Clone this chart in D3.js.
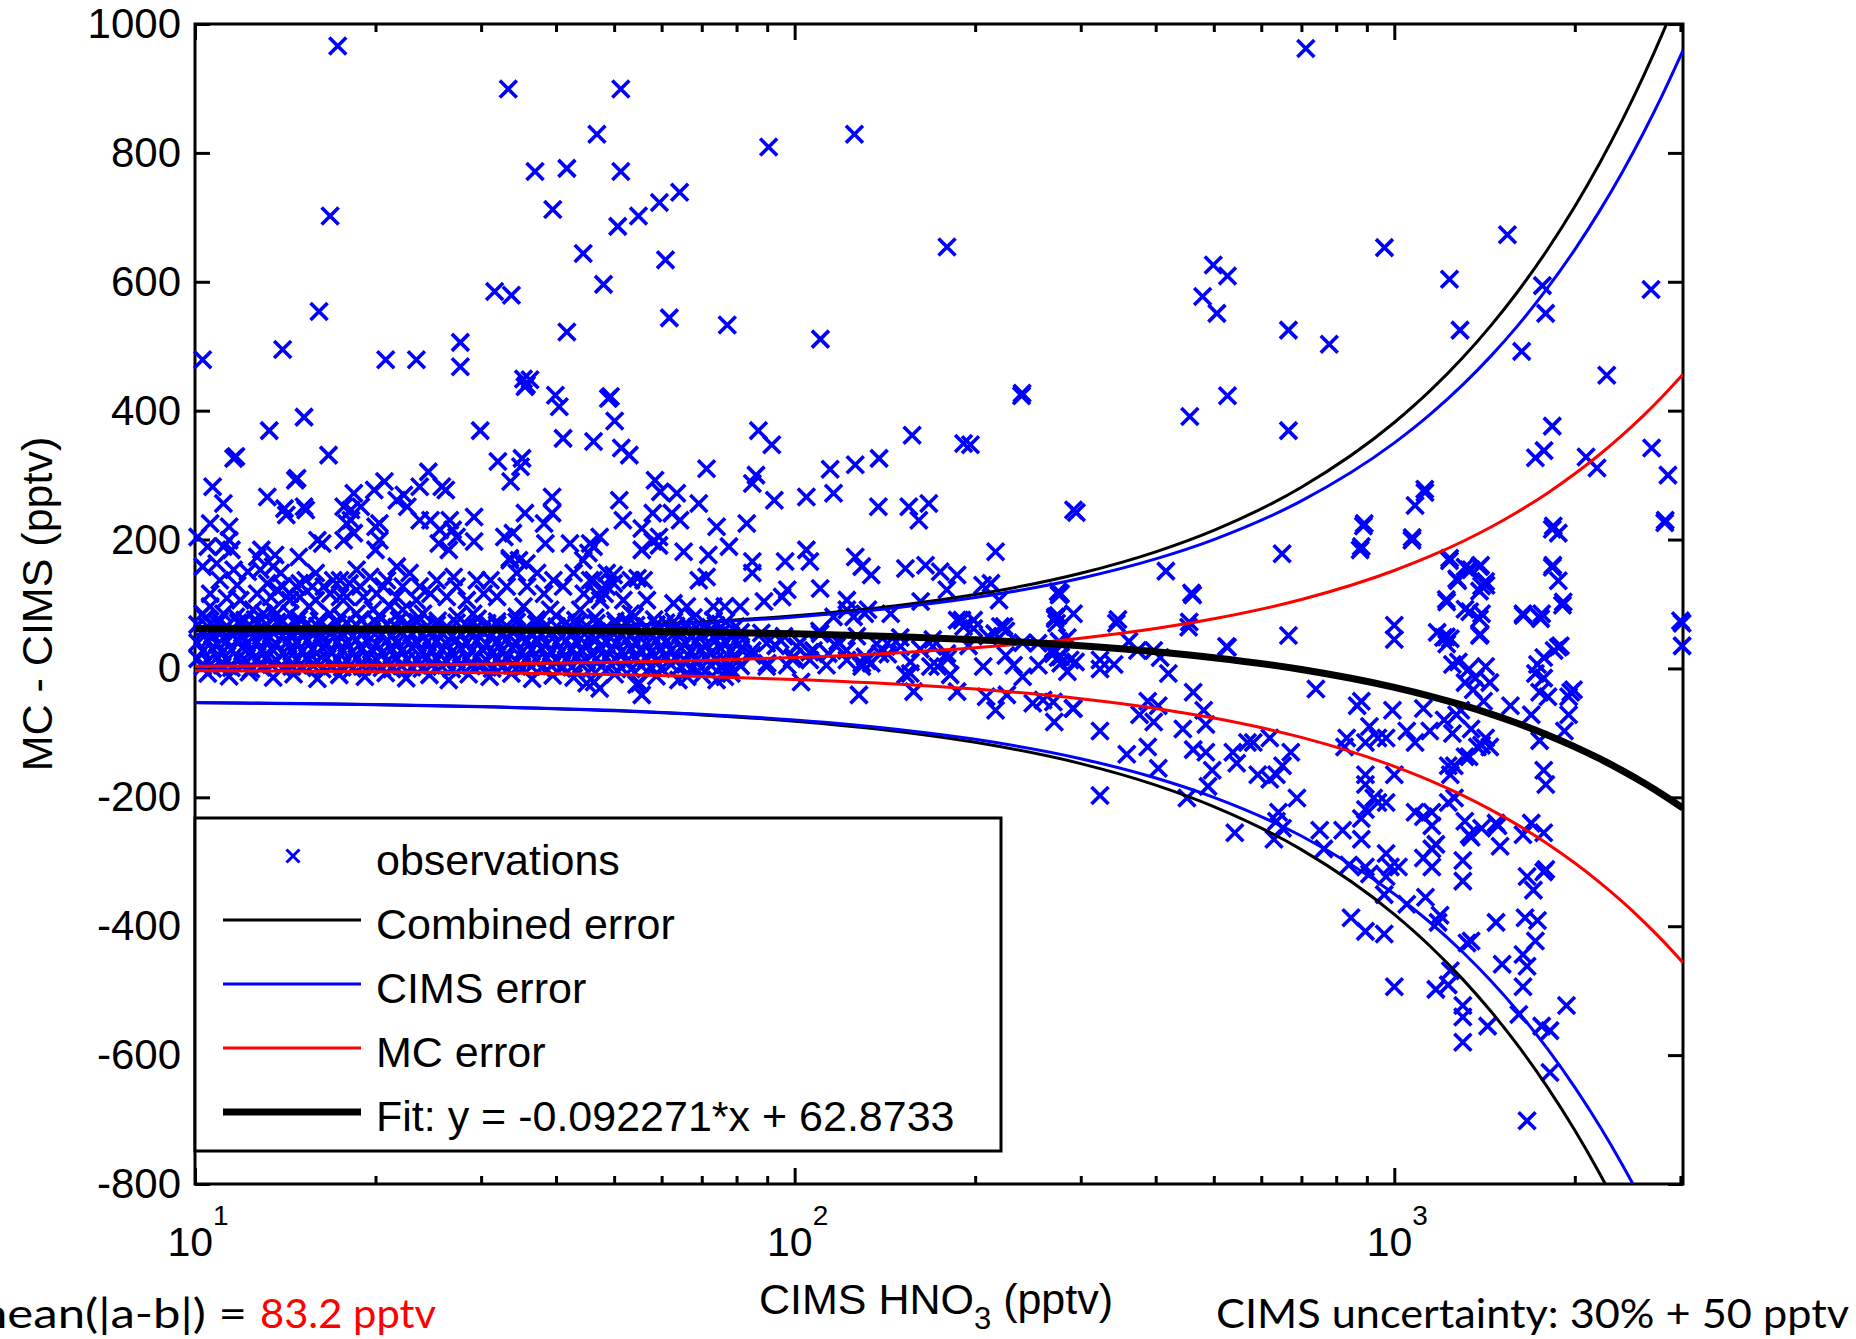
<!DOCTYPE html>
<html>
<head>
<meta charset="utf-8">
<script src="https://cdn.jsdelivr.net/npm/d3@7"></script>
<style>
  body { margin: 0; background: #fff; }
  text { white-space: pre; }
</style>
</head>
<body>
<svg id="chart" width="1856" height="1339"></svg>
<script>
// ---- axis ticks ----
const yTicks = [-800, -600, -400, -200, 0, 200, 400, 600, 800, 1000];
const xMajor = [10, 100, 1000];
const xExponents = ["1", "2", "3"];
const xMinor = [20, 30, 40, 50, 60, 70, 80, 90, 200, 300, 400, 500, 600, 700, 800, 900, 2000, 3000];

// ---- error envelopes and fit ----
const curveX   = [10, 15, 20, 30, 50, 70, 100, 150, 200, 300, 400, 500, 700, 1000, 1150, 1300, 1450, 1600, 1800, 2000, 2200, 2400, 2600, 2800, 3030];
const cimsErr  = [53, 54.5, 56, 59, 65, 71, 80, 95, 110, 140, 170, 200, 260, 350, 395, 440, 485, 530, 590, 650, 710, 770, 830, 890, 959];
const mcErr    = [3.5, 4.3, 5, 6.5, 9.5, 12.5, 17, 24.5, 32, 47, 62, 77, 107, 152, 174.5, 197, 219.5, 242, 272, 302, 332, 362, 392, 422, 456.5];
const combErr  = [53.1, 54.7, 56.2, 59.4, 65.7, 72.1, 81.8, 98.1, 114.6, 147.7, 181, 214.3, 281.2, 381.6, 431.8, 482.1, 532.4, 582.6, 649.7, 716.7, 783.8, 850.8, 917.9, 985, 1062.1];
const fitY     = [61.95, 61.49, 61.03, 60.11, 58.26, 56.41, 53.65, 49.03, 44.42, 35.19, 25.97, 16.74, -1.72, -29.4, -43.24, -57.08, -70.92, -84.76, -103.21, -121.67, -140.12, -158.58, -177.03, -195.49, -216.71];

// ---- dense core of observations (x positions shared by rows) ----
const bandXa = [10.1,10.5,10.9,11.3,11.8,12.2,12.7,13.2,13.7,14.3,14.8,15.4,16.0,16.6,17.3,17.9,18.6,19.4,20.1,20.9,21.7,22.6,23.5,24.4,25.3,26.3,27.3,28.4,29.5,30.7,31.9,33.1,34.4,35.7,37.1,38.6,40.1,41.6,43.3,45.0,46.7,48.5,50.4,52.4,54.4,56.6,58.8,61.0,63.4,65.9,68.5,71.1,73.9,76.8,79.8];
const bandXb = [10.3,10.7,11.1,11.5,12.0,12.4,12.9,13.4,14.0,14.5,15.1,15.7,16.3,16.9,17.6,18.3,19.0,19.7,20.5,21.3,22.1,23.0,23.9,24.8,25.8,26.8,27.8,28.9,30.1,31.3,32.5,33.8,35.1,36.4,37.8,39.3,40.9,42.5,44.1,45.8,47.6,49.5,51.4,53.4,55.5,57.6,59.9,62.2,64.6,67.2,69.8,72.5,75.3,78.2,81.3];
const bandRowA = [68,65,70,66,71,64,69,67,72,65,68,70,66,63,69,71,67,65,70,68,64,69,72,66,68,65,71,67,63,70,68,66,72,64,69,67,65,71,68,66,70,64,69,72,67,65,68,71,66,70,64,69,67,72,65];
const bandRowB = [55,52,57,53,50,56,54,58,51,55,53,57,52,56,54,50,55,58,53,51,56,54,52,57,55,50,53,56,58,52,54,57,51,55,53,56,50,54,58,52,55,57,53,51,56,54,52,58,55,50,53,57,54,52,56];
const bandRowC = [40,43,38,42,45,39,41,44,37,42,40,43,45,38,41,39,44,42,37,43,40,45,39,41,42,38,44,40,43,37,41,45,39,42,44,38,40,43,41,37,45,42,39,44,40,38,43,41,45,39,42,37,44,40,43];
const bandRowD = [27,30,25,29,32,26,28,31,24,29,27,30,32,25,28,26,31,29,24,30,27,32,26,28,29,25,31,27,30,24,28,32,26,29,31,25,27,30,28,24,32,29,26,31,27,25,30,28,32,26,29,24,31,27,30];
const bandRowE = [15,12,17,13,16,11,14,18,12,15,13,17,11,16,14,12,15,18,13,11,16,14,12,17,15,11,13,16,18,12,14,17,11,15,13,16,12,14,18,12,15,17,13,11,16,14,12,18,15,11,13,17,14,12,16];
const bandRowF = [3,0,5,1,4,-1,2,6,0,3,1,5,-1,4,2,0,3,6,1,-1,4,2,0,5,3,-1,1,4,6,0,2,5,-1,3,1,4,0,2,6,0,3,5,1,-1,4,2,0,6,3,-1,1,5,2,0,4];

// ---- scattered observations [CIMS HNO3, MC - CIMS] ----
const obsUpper = [[17.3,966],[33.3,899],[51.3,899],[46.8,829],[125.8,829],[90.5,809],[36.9,771],[41.7,776],[51.3,771],[16.8,702],[39.5,712],[50.7,686],[54.9,702],[59.5,723],[64.3,739],[44.4,644],[60.9,634],[179.5,654],[48,596],[31.6,585],[33.7,579],[16.1,554],[61.8,544],[77.2,533],[41.7,522],[110.4,511],[14.0,495],[10.3,479],[20.8,479],[23.4,479],[27.7,506],[27.7,468],[35.3,449],[36.2,448],
  [35.5,437],[35.7,440],[39.9,424],[40.5,406],[41.1,357],[46.2,352],[48.9,419],[29.9,369],[15.2,390],[13.3,369],[16.7,331],[11.6,326],[11.7,329],[32.0,321],[35.1,326],[34.9,313],[49.3,422],[50.1,384],[51.4,342],[53.0,331],[87.0,369],[91.6,347],[71.3,310],[86.2,300],[85.0,287],[138.3,326],[126.2,316],[114.6,309],[157.0,362],[191.3,349],[196.4,347],[239.5,427]];

const obsMidLeft = [[33.6,290],[10.7,282],[11.15,256],[13.2,266],[14.1,248],[14.2,238],[15.2,251],[15.3,246],[10.6,225],[10.1,204],[11.4,220],[11.4,199],[11.15,189],[10.5,189],[11.5,184],[18.4,272],[18.9,251],[19.9,277],[18.2,246],[17.7,251],[20.7,290],[20.3,225],[20.0,220],[21.7,261],[22.3,269],[22.6,251],[23.7,282],[24.5,305],[25.8,282],[26.2,277],[23.7,230],[24.7,230],[25.6,215],[26.6,230],[27.3,204],[29.2,235],[29.2,197],[25.5,194],[26.5,184],[26.9,215],[18.4,210],[17.7,199],[20.3,199],[20.0,184],[16.0,199],[16.3,194],[12.9,184],[12.7,173],[13.6,176],[14.9,173],[17.9,225],[18.2,230],[32.8,204],[33.9,210],[35.5,241],[38.2,225],[39.4,266],[39.4,241],[38.4,194],[42.2,194],[45.6,194],[46.2,189],[33.5,171],[34.7,168],[35.7,163],[14.8,295],[14.7,292],
  [63.6,272],[58.5,292],[59.7,274],[51.0,261],[51.7,230],[55.6,217],[58.0,241],[62.4,241],[64.4,230],[69.2,256],[74.1,220],[83.2,225],[92.5,261],[104.6,266],[116.1,272],[137.9,251],[155.0,251],[167.4,256],[161.1,230],[291.8,246],[216.3,181],[55.6,184],[59.4,191],[65.3,181],[71.8,176],[77.7,189],[85.0,166],[85.0,148],[96.4,166],[104.6,184],[106.0,166],[126.2,173],[129.4,158],[134.2,145],[153.0,155],[165.3,160],[174.9,150],[186.6,145],[47.3,204],[45.3,179],[44.4,168],[58.0,197],[59.4,204]];

const obsMidDense = [[10.3,158],[10.87,163],[11.6,153],[12.25,150],[11.0,137],[11.76,129],[10.6,116],[11.3,109],[11.9,106],[12.5,91],[10.6,96],[10.3,85],[11.15,85],[12.85,153],[13.5,158],[13.9,148],[13.2,132],[14.0,127],[13.4,111],[14.4,106],[13.0,85],[14.75,127],[15.3,137],[15.9,148],[14.95,111],[16.4,127],[15.5,96],[16.8,116],[17.45,137],[17.9,111],[18.85,127],[18.6,153],[19.6,142],[20.1,116],[20.9,137],[21.7,158],[22.2,127],[21.15,96],[22.8,148],[23.7,127],[23.4,106],[24.7,116],[25.3,137],[26.3,111],[27.0,142],[27.3,127],[28.4,106],[29.5,137],[30.3,116],[31.1,137],[31.9,111],[33.1,127],[33.5,168],[34.4,148],[35.8,127],[37.2,148],[38.2,116],[39.6,137],[41.1,127],[42.8,148],[44.5,116],[46.2,137],[47.4,106],[48.6,127],[35.3,96],[39.1,91],[43.9,91],[29.1,85],[24.0,85],[19.8,91],[16.8,85],[14.4,85],[12.1,75],
  [12.7,116],[13.7,122],[14.95,132],[15.7,127],[17.0,137],[18.1,132],[19.1,111],[20.6,127],[21.7,111],[17.45,111],[14.4,116],[15.9,106],[13.5,91],[18.6,85],[22.2,91],
  [179.4,122],[219.2,106],[212.5,132],[205.8,129],[277.7,116],[272.2,80],[190.1,75],[198.9,62],[223.5,65],[162.2,104],[144.6,85],[132.5,91],[122.2,106],[110.3,124],[95.3,111],[97.2,122],[88.9,104],[76.5,96],[81.1,96],[73.2,96],[66.1,96],[62.8,101],[53.3,137],[54.7,140],[56.0,137],[48.6,148],[49.9,145],[45.6,137],[46.8,116],[49.9,132],[48.2,116],[51.8,106],[53.3,85],[56.7,106],[69.2,137],[71.3,142]];

const obsFringe = [[10.4,78],[11.0,74],[11.7,80],[12.6,76],[13.6,82],[14.9,77],[16.1,74],[17.5,80],[18.9,76],[20.3,82],[21.9,75],[23.6,79],[25.4,74],[27.4,81],[29.6,77],[31.9,73],[34.4,80],[37.1,76],[40.0,82],[43.1,75],[46.5,79],[50.2,74],[54.1,81],[58.3,76],[62.9,73],[67.8,79],[73.2,75],
  [10.5,-8],[11.4,-12],[12.3,-6],[13.5,-14],[14.6,-9],[16.0,-16],[17.4,-10],[19.2,-13],[20.8,-7],[22.5,-15],[24.6,-10],[26.5,-18],[28.6,-9],[31.0,-13],[33.7,-8],[36.5,-16],[39.5,-11],[42.8,-14],[46.3,-21],[50.1,-9],[54.5,-25],[58.8,-12],[64,-18],[70,-10],
  [82,45],[85,20],[88,55],[90,8],[93,35],[96,50],[99,15],[102,40],[106,25],[110,58],[113,5],[118,42],[122,28],[127,50],[132,12],[137,38],[143,22],[150,48],[156,10],[162,30],[170,45],[180,15],[195,35],[210,50],[225,20],[240,40],[255,5],[270,30],[285,48],
  [125.4,80],[130.9,85],[122.2,91],[116.1,80],[186.6,75],[191.3,65],[198.9,75],[215.5,54],[220.3,65],[270,23],[277.7,18],[288,13],[254.6,39],[273.4,70],[291.8,85],[179.4,23],[170,34],[142.8,39],[150.2,34],[138.9,23],[131.0,18],[117.5,34],[110.3,54],[107.5,28],[100.9,34],[94.6,44],[89.8,39],[85.0,28],[99.6,18],[106,13],[113.8,23],[122.2,13],[129.4,8],
  [66.2,-13],[74.1,-18],[76.5,-13],[78.4,-8],[47.3,-31],[45.0,-23],[55.1,-23],[55.6,-41],[102.5,-21],[89.8,3],[97.2,5],[129.4,3],[134.2,8],[128.0,-41],[153.0,-10],[155.9,-8],[157.9,-36],[168.4,3],[173.2,3],[181.7,-10],[186.6,-36],[206.3,3],[208.6,-44],[216.3,-65],[225.9,-41],[231.8,5],[240,-13],[249.5,-54],[259.6,-49],[270,-52],[277.7,8],[285,-5],[291.8,-62]];

const obsRightUpper = [[712,962],[1544,673],[963,653],[499,626],[527,609],[1236,604],[1766,594],[2680,588],[479,577],[506,551],[1788,551],[666,525],[1287,525],[779,503],[1631,492],[2261,455],[239,423],[527,423],[456,391],[666,369],[1834,376],[1719,327],[1777,338],[2088,328],[2178,311],[2686,342],[2860,300],[2825,226],[295,242],[1125,273],[1083,253],[888,221],[877,184],[1070,199],[1834,216],[1877,210],[650,178],[416,151],[1834,157],[1877,136],[1236,167],[1330,153],[1387,158],[1276,136],[1422,129],[1387,120],[1223,103],[1336,88],[1387,77],[1387,51],[1641,82],[1754,77],[1907,98],[1000,67],[1000,45],[666,51],[1208,48],[1223,38],[3020,70],[3020,35],[1877,33],[527,33],[461,114],[276,114],[272,77],[344,70],[454,64],[225,58],
  [1124,278],[891,225],[881,189],[1071,203],[2830,230],[1841,221],[1237,171],[1838,160],[1913,103],[1312,157],[1343,153],[1393,160],[1271,139],[1420,135],[1398,128],[1221,107],[1312,92],[1398,85],[1391,53],[1179,56],[1221,49],[1240,46],[1639,85],[1761,85],[1749,79],[346,76],[459,117],[455,72],[275,119],[275,82],[525,34],[3001,74],[1892,35],[1847,28],[1775,17],[1733,6],[276,42],[275,17],[294,10],[323,13],[341,6],[361,42],[373,28],[397,28],[407,17],[1279,10],[1420,3],[1250,6]];

const obsRightLower = [[323,-1],[420,-8],[388,-51],[404,-58],[376,-72],[397,-83],[323,-97],[358,-133],[388,-122],[404,-155],[323,-197],[291,-62],[271,-83],[462,-37],[481,-65],[444,-94],[485,-87],[462,-126],[485,-130],[497,-158],[489,-183],[451,-201],[542,-255],[538,-130],[546,-147],[569,-115],[582,-115],[620,-108],[592,-165],[620,-172],[636,-165],[651,-151],[672,-130],[688,-201],[641,-223],[636,-237],[630,-265],[651,-248],[751,-251],[763,-280],[820,-251],[833,-108],[826,-122],[867,-58],[881,-51],[909,-90],[895,-115],[939,-108],[969,-108],[993,-65],[1000,-165],[895,-165],[895,-180],[924,-201],[939,-208],[895,-219],[881,-233],[969,-208],[881,-265],[840,-305],[895,-308],[909,-319],[969,-323],[985,-308],[969,-287],[1016,-308],[962,-351],[1049,-366],[1083,-223],[1118,-230],[1155,-223],[1155,-244],[1118,-294],[1155,-280],[1173,-273],[1155,-308],[1127,-355],[1192,-383],[1183,-394],[1118,-62],[1049,-97],[1083,-115],[1146,-97],[1211,-80],[1270,-72],[1250,-101],[1230,-151],[1260,-201],[1311,-237],[1343,-262],[1301,-298],[1301,-330],[1322,-426],[1343,-423],[1240,-469],[1230,-491],[1173,-498],[1301,-523],[1301,-541],[1301,-580],[1431,-555],[1478,-394],[1513,-459],[1613,-537],[1639,-444],[1665,-462],[1639,-494],[1665,-323],[1706,-344],[1652,-387],[1733,-391],[1719,-423],[1761,-555],[1818,-562],[1818,-627],[1937,-523],[1665,-702],[847,-387],[895,-408],[962,-412],[1000,-494],[1489,-244],[1501,-276],[1639,-258],[1692,-240],[1775,-255],[1789,-312],[1398,-248],[1333,-258],[1478,-240],[1398,-119],[1333,-137],
  [1332,-1],[1365,-15],[1312,-22],[1443,-22],[1354,-33],[1409,-51],[1291,-65],[1420,-108],[1376,-122],[1312,-137],[1443,-122],[1259,-151],[1240,-165],[1230,-208],[1343,-94],[740,-32],
  [1719,-8],[1775,-15],[1747,-37],[1804,-44],[1953,-44],[1969,-37],[1990,-33],[1953,-72],[1922,-97],[1747,-112],[1562,-58],[1692,-72],[1775,-158],[1789,-180],[1775,-316]];

// ---- legend and annotations ----
const legendLabels = ["observations", "Combined error", "CIMS error", "MC error", "Fit: y = -0.092271*x + 62.8733"];
const meanLabel = "mean(|a-b|) =";
const meanValue = "83.2 pptv";
const uncertaintyLabel = "CIMS uncertainty: 30% + 50 pptv";

// ---------------------------------------------------------------
const FONT = '"Liberation Sans", Arial, sans-serif';
const BLUE = "#0000ff", RED = "#ff0000";
const L = 195, R = 1683, T = 24, B = 1184;

const svg = d3.select("#chart");
svg.append("rect").attr("width", 1856).attr("height", 1339).attr("fill", "#fff");

const x = d3.scaleLog().domain([10, 3030]).range([L, R]);
const y = d3.scaleLinear().domain([-800, 1000]).range([B, T]);

// axes (drawn first, data goes on top as in the original)
function styleAxis(g) {
  g.select(".domain").remove();
  g.selectAll("line").attr("stroke", "#000").attr("stroke-width", 3);
  g.attr("font-family", FONT).attr("font-size", 42);
  g.selectAll("text").attr("fill", "#000");
}
svg.append("g").attr("transform", `translate(${L},0)`)
  .call(d3.axisLeft(y).tickValues(yTicks).tickSize(-15).tickPadding(14).tickFormat(d => String(d)))
  .call(styleAxis);
svg.append("g").attr("transform", `translate(${R},0)`)
  .call(d3.axisRight(y).tickValues(yTicks).tickSize(-15).tickFormat(""))
  .call(styleAxis);
[[d3.axisBottom, B], [d3.axisTop, T]].forEach(([ax, pos]) => {
  svg.append("g").attr("transform", `translate(0,${pos})`)
    .call(ax(x).tickValues(xMajor).tickSize(-16).tickFormat(""))
    .call(styleAxis);
  svg.append("g").attr("transform", `translate(0,${pos})`)
    .call(ax(x).tickValues(xMinor).tickSize(-8).tickFormat(""))
    .call(styleAxis);
});
svg.append("rect").attr("x", L).attr("y", T).attr("width", R - L).attr("height", B - T)
  .attr("fill", "none").attr("stroke", "#000").attr("stroke-width", 3);

// x tick labels 10^n
xMajor.forEach((v, i) => {
  const t = svg.append("text").attr("x", x(v) + 3).attr("y", 1256)
    .attr("text-anchor", "middle").attr("font-family", FONT).attr("font-size", 41);
  t.append("tspan").text("10");
  t.append("tspan").attr("font-size", 28).attr("dy", -31).text(xExponents[i]);
});

// axis titles
const xt = svg.append("text").attr("x", 936).attr("y", 1314).attr("text-anchor", "middle")
  .attr("font-family", FONT).attr("font-size", 43);
xt.append("tspan").text("CIMS HNO");
xt.append("tspan").attr("font-size", 31).attr("dy", 15).text("3");
xt.append("tspan").attr("dy", -15).text(" (pptv)");

svg.append("text").attr("transform", "translate(52,604) rotate(-90)")
  .attr("text-anchor", "middle").attr("font-family", FONT).attr("font-size", 43)
  .text("MC - CIMS (pptv)");

// observations
const bandPts = [[bandXa, bandRowA], [bandXb, bandRowB], [bandXa, bandRowC], [bandXb, bandRowD], [bandXa, bandRowE], [bandXb, bandRowF]]
  .flatMap(([xs, ys]) => xs.map((v, i) => [v, ys[i]]));
const observations = [].concat(bandPts, obsFringe, obsMidDense, obsMidLeft, obsUpper, obsRightUpper, obsRightLower);
const cross = "M-8.5,-8.5L8.5,8.5M-8.5,8.5L8.5,-8.5";
svg.append("g").selectAll("path").data(observations).join("path")
  .attr("transform", d => `translate(${x(d[0])},${y(d[1])})`)
  .attr("d", cross).attr("fill", "none").attr("stroke", BLUE).attr("stroke-width", 3.6);

// lines, clipped to the axes box
svg.append("clipPath").attr("id", "plotClip").append("rect")
  .attr("x", L).attr("y", T).attr("width", R - L).attr("height", B - T);
const lines = svg.append("g").attr("clip-path", "url(#plotClip)");
const lineGen = d3.line().x(d => x(d[0])).y(d => y(d[1])).curve(d3.curveMonotoneX);
function drawCurve(vals, sign, color, width) {
  lines.append("path").datum(curveX.map((v, i) => [v, sign * vals[i]]))
    .attr("d", lineGen).attr("fill", "none").attr("stroke", color).attr("stroke-width", width);
}
[1, -1].forEach(s => drawCurve(combErr, s, "#000", 3));
[1, -1].forEach(s => drawCurve(cimsErr, s, BLUE, 3));
[1, -1].forEach(s => drawCurve(mcErr, s, RED, 3));
drawCurve(fitY, 1, "#000", 7);

// legend
const lg = svg.append("g").attr("font-family", FONT).attr("font-size", 43);
lg.append("rect").attr("x", 195).attr("y", 818).attr("width", 806).attr("height", 333)
  .attr("fill", "#fff").attr("stroke", "#000").attr("stroke-width", 3);
const legendStyles = [null, ["#000", 3], [BLUE, 3], [RED, 3], ["#000", 7]];
legendLabels.forEach((lab, i) => {
  const cy = 856 + i * 64;
  if (i === 0) {
    lg.append("path").attr("transform", `translate(293,${cy})`).attr("d", "M-6.5,-6.5L6.5,6.5M-6.5,6.5L6.5,-6.5")
      .attr("stroke", BLUE).attr("stroke-width", 3).attr("fill", "none");
  } else {
    lg.append("line").attr("x1", 223).attr("x2", 361).attr("y1", cy).attr("y2", cy)
      .attr("stroke", legendStyles[i][0]).attr("stroke-width", legendStyles[i][1]);
  }
  lg.append("text").attr("x", 376).attr("y", cy + 19).text(lab);
});

// footer annotations (the left one starts off the page, as in the original)
const foot = svg.append("g").attr("font-family", "Lato, 'Open Sans', sans-serif").attr("font-size", 41);
foot.append("text").attr("x", -33).attr("y", 1328).attr("textLength", 280).attr("lengthAdjust", "spacingAndGlyphs")
  .text(meanLabel);
foot.append("text").attr("x", 260).attr("y", 1328).attr("fill", RED).attr("textLength", 176).attr("lengthAdjust", "spacingAndGlyphs")
  .text(meanValue);
foot.append("text").attr("x", 1216).attr("y", 1328).attr("textLength", 633).attr("lengthAdjust", "spacingAndGlyphs")
  .text(uncertaintyLabel);
</script>
</body>
</html>
